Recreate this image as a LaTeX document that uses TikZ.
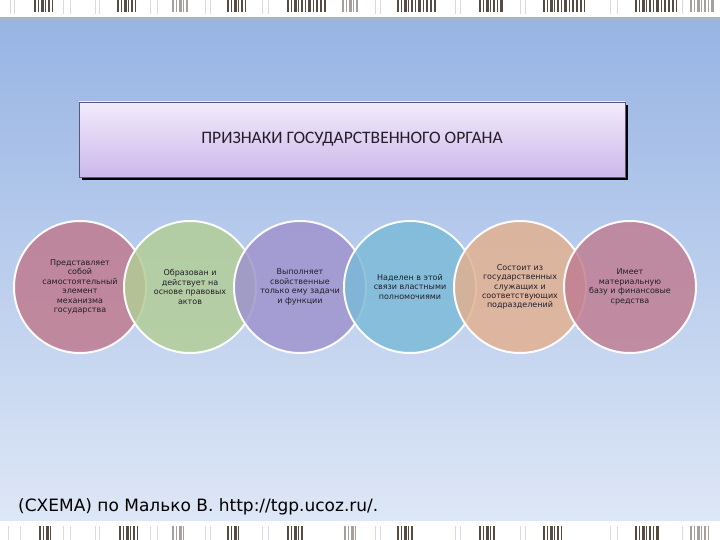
\documentclass[tikz,border=0pt]{standalone}
\usepackage{fontspec}
\setmainfont{DejaVu Sans}
\newfontfamily\hdrfont{Carlito}
\usetikzlibrary{shadows}
\definecolor{bgtop}{RGB}{151,180,228}
\definecolor{bgbot}{RGB}{222,231,246}
\definecolor{barDark}{RGB}{85,75,65}
\definecolor{barGray}{RGB}{165,160,158}
\definecolor{barLight}{RGB}{215,218,228}
\definecolor{stripLine}{RGB}{165,180,205}
\definecolor{cRose}{RGB}{192,120,140}
\definecolor{cGreen}{RGB}{178,205,148}
\definecolor{cPurple}{RGB}{158,146,205}
\definecolor{cBlue}{RGB}{122,186,216}
\definecolor{cPeach}{RGB}{228,176,142}
\definecolor{cRose2}{RGB}{192,124,145}
\definecolor{hdrTop}{RGB}{242,235,251}
\definecolor{hdrBot}{RGB}{204,184,234}
\definecolor{hdrLine}{RGB}{95,85,120}
\definecolor{txt}{RGB}{35,30,40}
\newcommand{\bargroup}[5]{% x, width, ytop, ybot, color
  \foreach \o/\lw in {0/2,4/1,7/2.5,11/1,14/2,18/1,21/3,26/1,29/2,33/1.5,37/2,41/1}{
    \ifdim \o pt<#2pt
      \fill[#5] (#1+\o,#3) rectangle (#1+\o+\lw,#4);
    \fi
  }%
}
\tikzset{
  sign/.style={circle, minimum size=132pt, inner sep=0pt, draw=white, line width=2pt,
    fill opacity=0.82, draw opacity=0.95, text opacity=1, align=center,
    font=\fontsize{8}{9.4}\selectfont, text=txt},
  thinbar/.style={barLight, line width=1pt}
}
\begin{document}
\begin{tikzpicture}[x=1pt,y=-1pt]
\useasboundingbox (0,0) rectangle (720,540);
% background
\shade[top color=bgtop, bottom color=bgbot] (0,18) rectangle (720,521);
% top strip
\fill[white] (0,0) rectangle (720,17);
\fill[stripLine] (0,17) rectangle (720,21);
\foreach \x in {10,14,63,70,95,99,150,157,205,210,262,268,375,380,455,460,520,525,610,617,682}
  \draw[thinbar] (\x,0) -- (\x,14);
\foreach \x/\w in {34/19,117/21,227/21,287/41,397/41,479/26,543/42,635/42}
  \bargroup{\x}{\w}{0}{12}{barDark}
\foreach \x/\w in {172/16,342/16,690/26}
  \bargroup{\x}{\w}{0}{12}{barGray}
% bottom strip
\fill[white] (0,521) rectangle (720,540);
\foreach \x in {8,20,63,70,95,99,150,157,205,210,262,268,375,380,455,460,520,525,610,617,682}
  \draw[thinbar] (\x,526) -- (\x,540);
\foreach \x/\w in {39/14,119/19,227/12,287/16,397/18,479/16,543/21,635/25}
  \bargroup{\x}{\w}{526}{540}{barDark}
\foreach \x/\w in {172/14,344/14,690/21}
  \bargroup{\x}{\w}{526}{540}{barGray}
% header
\fill[black, opacity=0.18] (82,105) rectangle (628,180);
\node[draw=hdrLine, line width=0.8pt, top color=hdrTop, bottom color=hdrBot,
  minimum width=546pt, minimum height=75pt, inner sep=0pt,
  font=\hdrfont\fontsize{17.5}{20}\selectfont, text=txt] (hdr) at (352,139.5)
  {ПРИЗНАКИ ГОСУДАРСТВЕННОГО ОРГАНА};
% circles
\node[sign, fill=cRose]   (c1) at (80,287)  {Представляет\\собой\\самостоятельный\\элемент\\механизма\\государства};
\node[sign, fill=cGreen]  (c2) at (190,287) {Образован и\\действует на\\основе правовых\\актов};
\node[sign, fill=cPurple] (c3) at (300,287) {Выполняет\\свойственные\\только ему задачи\\и функции};
\node[sign, fill=cBlue]   (c4) at (410,287) {Наделен в этой\\связи властными\\полномочиями};
\node[sign, fill=cPeach]  (c5) at (520,287) {Состоит из\\государственных\\служащих и\\соответствующих\\подразделений};
\node[sign, fill=cRose2]  (c6) at (630,287) {Имеет\\материальную\\базу и финансовые\\средства};
% source line
\node[anchor=west, font=\fontsize{17}{20}\selectfont, text=black, inner sep=0pt] (src) at (18,507)
  {(СХЕМА) по Малько В. http://tgp.ucoz.ru/.};
\end{tikzpicture}
\end{document}
